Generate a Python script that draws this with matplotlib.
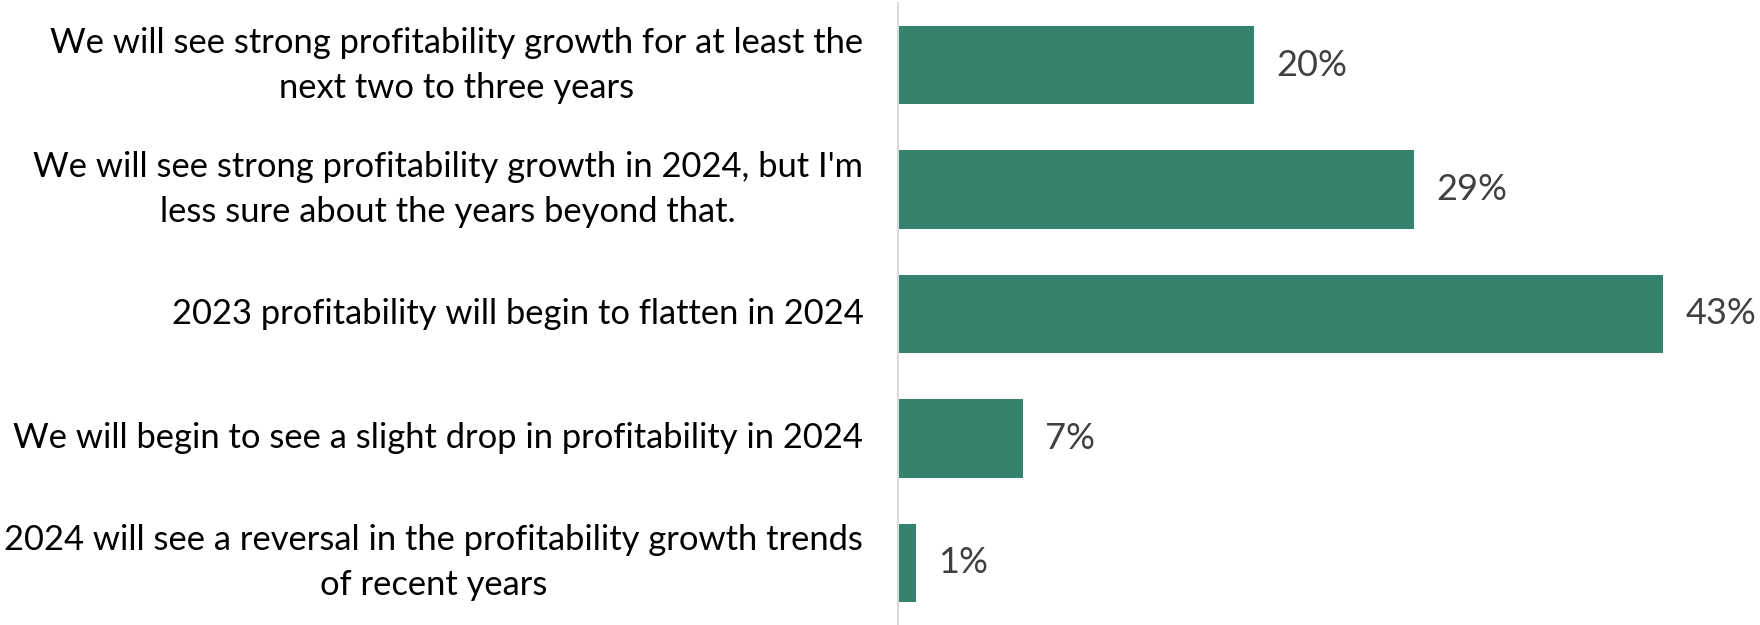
import matplotlib
matplotlib.use("Agg")
import matplotlib.pyplot as plt

categories = [
    "We will see strong profitability growth for at least the\nnext two to three years",
    "We will see strong profitability growth in 2024, but I'm\nless sure about the years beyond that.",
    "2023 profitability will begin to flatten in 2024",
    "We will begin to see a slight drop in profitability in 2024",
    "2024 will see a reversal in the profitability growth trends\nof recent years",
]
values = [20, 29, 43, 7, 1]
value_labels = ["20%", "29%", "43%", "7%", "1%"]

plt.rcParams["font.family"] = ["Lato", "DejaVu Sans"]

W, H = 1760, 625
fig = plt.figure(figsize=(W / 100, H / 100), dpi=100)
ax = fig.add_axes([898 / W, 0.0, (W - 898) / W, 622 / H])

bar_color = "#35826E"
y = list(range(len(categories)))
ax.barh(y, values, height=0.63, color=bar_color, left=0)
ax.set_ylim(len(categories) - 0.5, -0.5)
ax.set_xlim(0, (W - 898) / 17.8)

for yi, v, lab in zip(y, values, value_labels):
    ax.annotate(lab, (v, yi), xytext=(22, 0), textcoords="offset pixels",
                ha="left", va="center", fontsize=26, color="#404040")

ax.set_yticks(y)
ax.set_yticklabels(categories, fontsize=24.8, color="black", multialignment="center",
                   linespacing=1.5, va="center")
ax.tick_params(axis="y", length=0, pad=25)
ax.set_xticks([])
for side in ["top", "right", "bottom"]:
    ax.spines[side].set_visible(False)
ax.spines["left"].set_color("#D9D9D9")
ax.spines["left"].set_linewidth(1.5)

fig.savefig("out.png", dpi=100)
